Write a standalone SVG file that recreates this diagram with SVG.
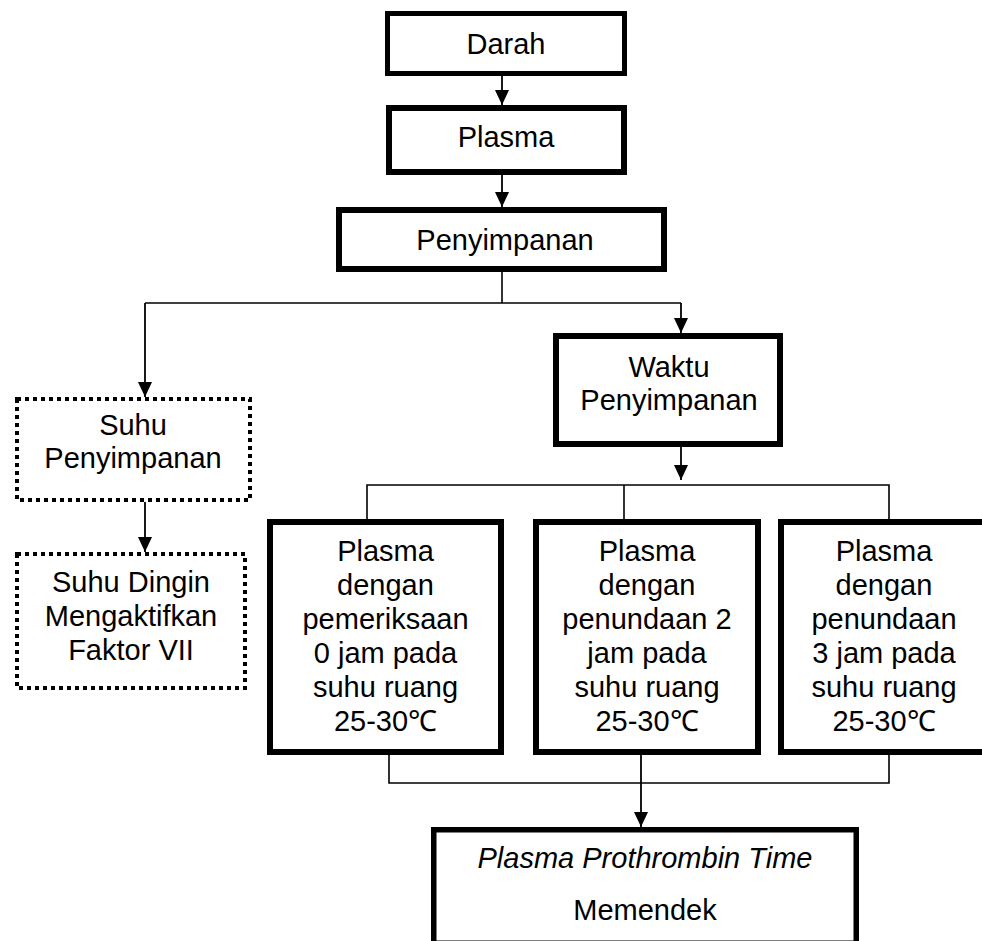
<svg xmlns="http://www.w3.org/2000/svg" width="982" height="941" viewBox="0 0 982 941">
<style>
.box{fill:#fff;stroke:#000;stroke-width:6}
.dot{fill:#fff;stroke:#000;stroke-width:4;stroke-dasharray:4 4}
.ln{fill:none;stroke:#000;stroke-width:1.6}
.arr{fill:none;stroke:#000;stroke-width:1.8;marker-end:url(#ah)}
text{font-family:"Liberation Sans",Arial,sans-serif;font-size:29px;fill:#000;text-anchor:middle}
.it{font-style:italic}
</style>
<defs>
<marker id="ah" viewBox="0 0 15 14" refX="15" refY="7" markerWidth="15" markerHeight="14" markerUnits="userSpaceOnUse" orient="auto">
<path d="M0,0 L15,7 L0,14 z" fill="#000"/>
</marker>
</defs>
<rect width="982" height="941" fill="#fff"/>
<g id="connectors">
<line class="arr" x1="502" y1="76" x2="502" y2="105"/>
<line class="arr" x1="502" y1="175" x2="502" y2="207"/>
<polyline class="ln" points="502,272 502,303"/>
<polyline class="ln" points="145,303 681,303"/>
<line class="arr" x1="145" y1="303" x2="145" y2="397"/>
<line class="arr" x1="681" y1="303" x2="681" y2="333"/>
<line class="arr" x1="145" y1="502" x2="145" y2="552"/>
<line class="arr" x1="681" y1="447" x2="681" y2="480"/>
<polyline class="ln" points="367,519 367,485 889,485 889,519"/>
<line class="ln" x1="624" y1="485" x2="624" y2="519"/>
<polyline class="ln" points="389,755 389,783 889,783 889,755"/>
<line class="arr" x1="641" y1="755" x2="641" y2="827"/>
</g>
<g id="darah">
<rect class="box" x="387.5" y="13.5" width="237" height="60" style="stroke-width:5"/>
<text x="506" y="54">Darah</text>
</g>
<g id="plasma">
<rect class="box" x="389" y="108" width="235" height="64"/>
<text x="506" y="147">Plasma</text>
</g>
<g id="penyimpanan">
<rect class="box" x="339" y="210" width="325" height="59"/>
<text x="505" y="250">Penyimpanan</text>
</g>
<g id="suhu-penyimpanan">
<rect class="dot" x="17" y="399" width="233" height="101"/>
<text x="133" y="435">Suhu</text>
<text x="133" y="468">Penyimpanan</text>
</g>
<g id="suhu-dingin">
<rect class="dot" x="17" y="554" width="228" height="134"/>
<text x="131" y="592">Suhu Dingin</text>
<text x="131" y="626">Mengaktifkan</text>
<text x="131" y="660">Faktor VII</text>
</g>
<g id="waktu">
<rect class="box" x="556" y="336" width="224" height="108"/>
<text x="669" y="377">Waktu</text>
<text x="669" y="410">Penyimpanan</text>
</g>
<g id="plasma-0">
<rect class="box" x="270" y="522" width="231" height="230"/>
<text x="385.5" y="561">Plasma</text>
<text x="385.5" y="595">dengan</text>
<text x="385.5" y="629">pemeriksaan</text>
<text x="385.5" y="663">0 jam pada</text>
<text x="385.5" y="697">suhu ruang</text>
<text x="385.5" y="731">25-30℃</text>
</g>
<g id="plasma-2">
<rect class="box" x="536" y="522" width="222" height="230"/>
<text x="647" y="561">Plasma</text>
<text x="647" y="595">dengan</text>
<text x="647" y="629">penundaan 2</text>
<text x="647" y="663">jam pada</text>
<text x="647" y="697">suhu ruang</text>
<text x="647" y="731">25-30℃</text>
</g>
<g id="plasma-3">
<rect class="box" x="781" y="522" width="206" height="230"/>
<text x="884" y="561">Plasma</text>
<text x="884" y="595">dengan</text>
<text x="884" y="629">penundaan</text>
<text x="884" y="663">3 jam pada</text>
<text x="884" y="697">suhu ruang</text>
<text x="884" y="731">25-30℃</text>
</g>
<g id="pt">
<rect class="box" x="433.75" y="829.75" width="422.5" height="113.5" style="stroke-width:5.5"/>
<text class="it" x="645" y="868">Plasma Prothrombin Time</text>
<text x="645" y="920">Memendek</text>
</g>
</svg>
